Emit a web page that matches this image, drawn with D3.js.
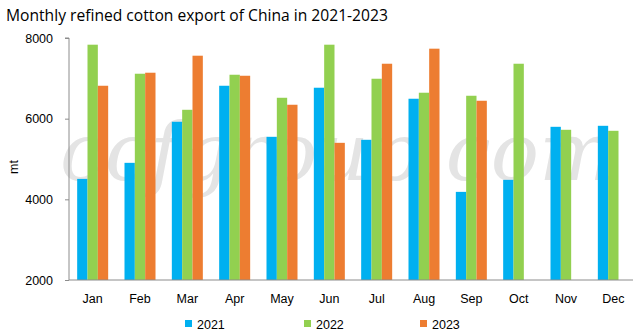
<!DOCTYPE html>
<html><head><meta charset="utf-8">
<script src="https://cdn.jsdelivr.net/npm/d3@7"></script>
<style>body{margin:0;background:#fff;} svg{display:block;}</style>
</head><body>
<svg id="chart" width="639" height="336"></svg>
<script>
const months = ["Jan","Feb","Mar","Apr","May","Jun","Jul","Aug","Sep","Oct","Nov","Dec"];
const seriesNames = ["2021","2022","2023"];
const v2021 = [4507,4905,5923,6816,5550,6767,5476,6494,4185,4483,5798,5823];
const v2022 = [7834,7114,6220,7089,6518,7834,6990,6643,6568,7362,5724,5699];
const v2023 = [6816,7139,7561,7064,6345,5401,7362,7735,6444,null,null,null];
const yTicks = [2000,4000,6000,8000];
const colors = ["#00B0F0","#92D050","#ED7D31"];

const svg = d3.select("#chart");
const font = "'Liberation Sans', Arial, sans-serif";
const m = {left:69, right:637, top:38, bottom:280};

const x = d3.scaleBand().domain(months).range([m.left, m.right]).paddingInner(0).paddingOuter(0);
const y = d3.scaleLinear().domain([2000,8000]).range([m.bottom, m.top]);
const groupW = 31;
const xs = d3.scaleBand().domain(seriesNames).range([0, groupW]);

// watermark
const wm = svg.append("text").attr("x",60).attr("y",180)
  .attr("font-family","'DejaVu Serif', serif").attr("font-style","italic")
  .attr("font-size",96).attr("fill","#e4e4e4")
  .text("ccfgroup.com");
const ww = wm.node().getComputedTextLength();
wm.attr("font-size", 96*555/ww);

// title
const title = svg.append("text").attr("x",6).attr("y",21)
  .attr("font-family","'Open Sans', sans-serif").attr("font-size",17).attr("fill","#000")
  .text("Monthly refined cotton export of China in 2021-2023");
const tw = title.node().getComputedTextLength();
title.attr("font-size", 17*382/tw);

// bars
const data = [v2021, v2022, v2023];
data.forEach((vals, si) => {
  svg.append("g").selectAll("rect").data(months.map((mo,i)=>({mo, v: vals[i]})).filter(d=>d.v!=null))
    .join("rect")
    .attr("x", d => x(d.mo) + x.bandwidth()/2 - groupW/2 + xs(seriesNames[si]))
    .attr("width", xs.bandwidth())
    .attr("y", d => y(d.v))
    .attr("height", d => y(2000) - y(d.v))
    .attr("fill", colors[si]);
});

// y axis
const yAxis = svg.append("g").attr("transform",`translate(${m.left},0)`)
  .call(d3.axisLeft(y).tickValues(yTicks).tickFormat(d3.format("d")).tickSize(4).tickPadding(12));
yAxis.select(".domain").attr("stroke","#8c8c8c").attr("d",`M-4,${m.top}H0V${m.bottom}`);
yAxis.selectAll(".tick line").attr("stroke","#8c8c8c");
yAxis.selectAll(".tick text").attr("font-family",font).attr("font-size",12.5).attr("fill","#000");

// x axis
const xAxis = svg.append("g").attr("transform",`translate(0,${m.bottom})`)
  .call(d3.axisBottom(x).tickSize(0).tickPadding(14));
xAxis.select(".domain").attr("stroke","#8c8c8c").attr("d",`M${m.left},0H633`);
xAxis.selectAll(".tick text").attr("font-family",font).attr("font-size",12.5).attr("fill","#000");

// y label
svg.append("text").attr("transform","translate(18,167) rotate(-90)")
  .attr("text-anchor","middle").attr("font-family",font).attr("font-size",12.5).text("mt");

// legend
const legX = [185, 304, 420];
seriesNames.forEach((s,i)=>{
  svg.append("rect").attr("x",legX[i]).attr("y",320).attr("width",7).attr("height",7).attr("fill",colors[i]);
  svg.append("text").attr("x",legX[i]+12).attr("y",328.5).attr("font-family",font).attr("font-size",12.5).text(s);
});
</script>
</body></html>
